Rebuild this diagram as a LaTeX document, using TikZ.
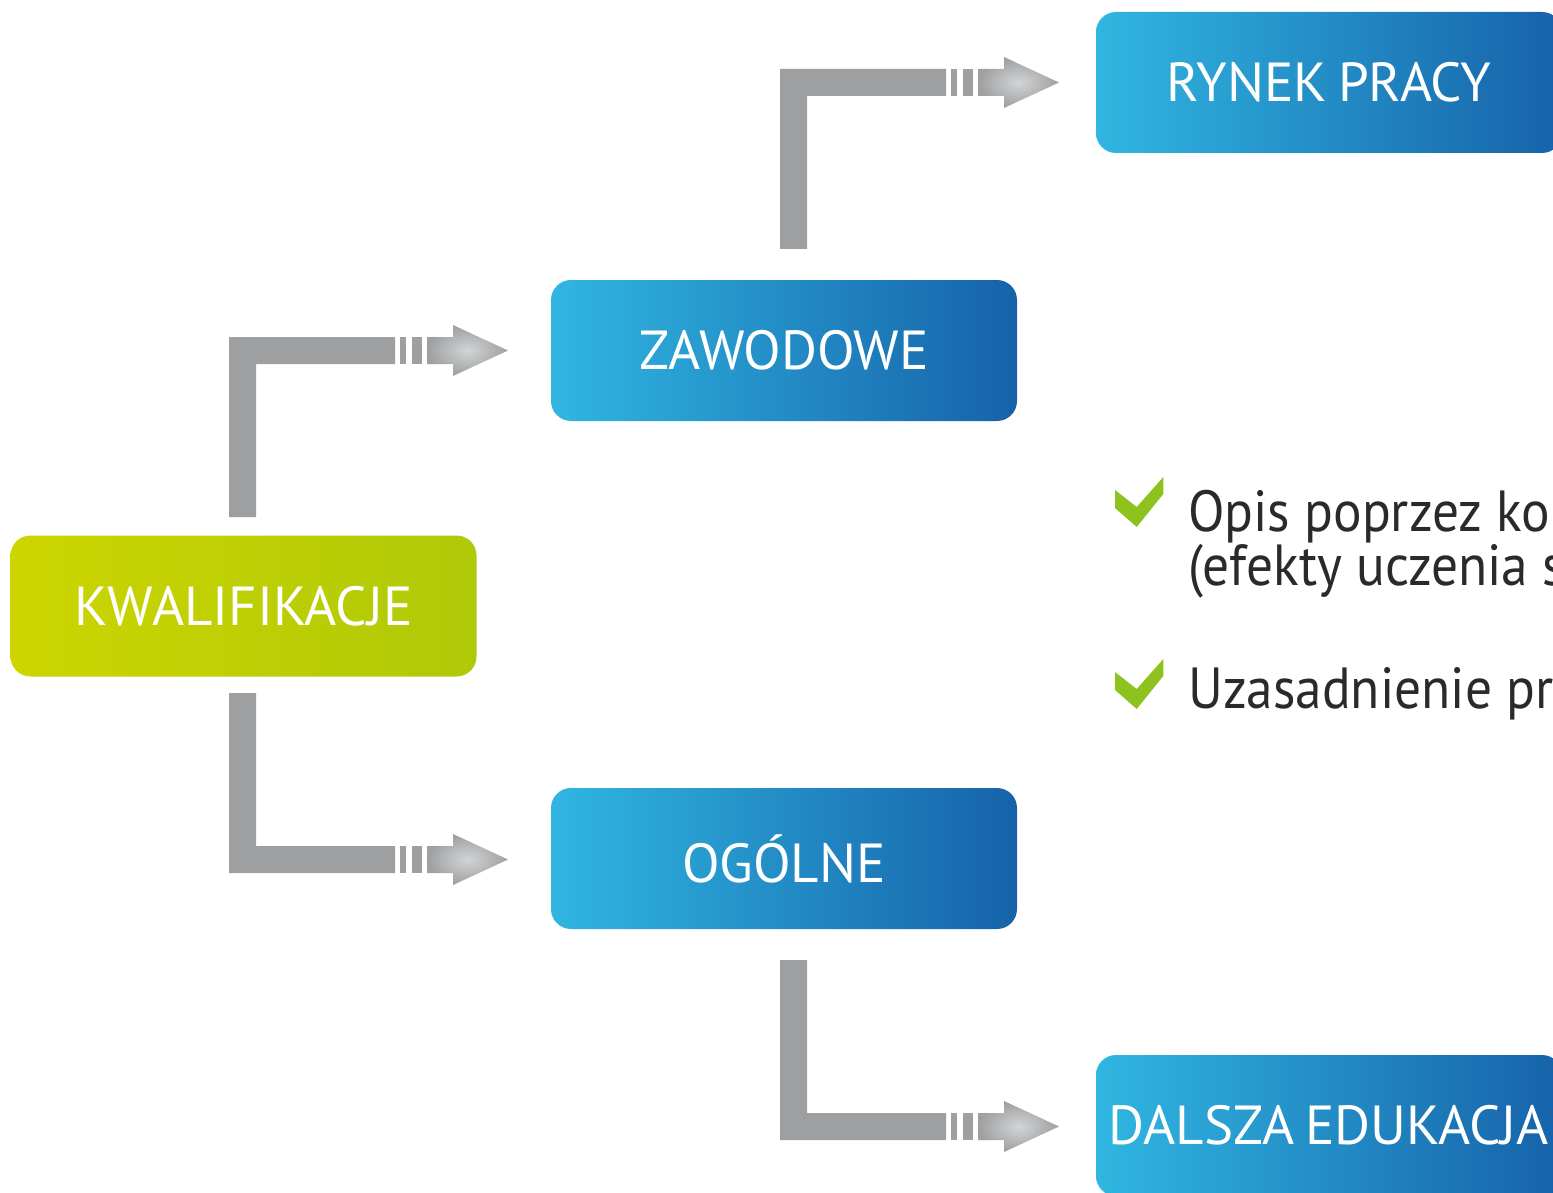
\documentclass[tikz,border=0pt]{standalone}
\usepackage{fontspec}
\setmainfont{PT Sans}
\newfontfamily\bodyfam[FakeStretch=0.92]{PT Sans}
\usetikzlibrary{calc}
\definecolor{blueL}{HTML}{30B6E1}
\definecolor{blueM}{HTML}{2398D0}
\definecolor{blueR}{HTML}{1662A9}
\definecolor{greenL}{HTML}{CDD500}
\definecolor{greenR}{HTML}{AFC908}
\definecolor{arrowgray}{HTML}{9D9FA1}
\definecolor{checkgreen}{HTML}{8DC21F}
\definecolor{textdark}{HTML}{2B2A29}
\newcommand\myboxfont{\fontsize{55}{60}\selectfont\spaceskip=0.2em\relax}
\newcommand\mybodyfont{\bodyfam\fontsize{58}{60}\selectfont}
\tikzset{
  box/.style={rounded corners=20pt, minimum width=466pt, minimum height=141pt,
    inner sep=0pt, text=white, font=\myboxfont},
  bluebox/.style={box, left color=blueL, middle color=blueM, right color=blueR},
  greenbox/.style={box, left color=greenL, right color=greenR},
  bodytext/.style={text=textdark, anchor=base west, inner sep=0pt, font=\mybodyfont},
  elbow/.pic={
    \fill[arrowgray] (0,0) -- (166,0) -- (166,27) -- (27,27) -- (27,180) -- (0,180) -- cycle;
    \fill[arrowgray] (171,0) rectangle (177,27);
    \fill[arrowgray] (183,0) rectangle (193,27);
    \shade[inner color=arrowgray!45, outer color=arrowgray]
      (198,0) -- (224,0) -- (224,-12) -- (279,13.5) -- (224,39) -- (224,27) -- (198,27) -- cycle;
  },
  checkmark/.pic={
    \fill[checkgreen] (0,12) -- (21.7,29) -- (48.3,-1) -- (48.3,16) -- (21.7,49) -- (0,30) -- cycle;
  }
}
\begin{document}
\begin{tikzpicture}[x=1pt,y=-1pt]
\useasboundingbox (0,0) rectangle (1553,1193);
\clip (0,0) rectangle (1553,1193);
\fill[white] (0,0) rectangle (1553,1193);

\node[bluebox] (ryn) at (1329,82.5) {RYNEK PRACY};
\node[bluebox] (zaw) at (784,350.5) {ZAWODOWE};
\node[greenbox] (kwal) at (243.5,606) {KWALIFIKACJE};
\node[bluebox] (og) at (784,858.5) {OGÓLNE};
\node[bluebox] (dal) at (1329,1125.5) {DALSZA EDUKACJA};

% elbow arrows
\pic at ($(kwal.center |- zaw.center)+(-14.5,-13.5)$) {elbow};
\pic[yscale=-1] at ($(kwal.center |- og.center)+(-14.5,14.5)$) {elbow};
\pic at ($(zaw.center |- ryn.center)+(-4,-13.5)$) {elbow};
\pic[yscale=-1] at ($(og.center |- dal.center)+(-4,14.5)$) {elbow};

% bullet list
\pic at (1115,478) {checkmark};
\pic at (1115,660) {checkmark};
\node[bodytext] (t1) at (1188,531) {Opis poprzez kom};
\node[bodytext] (t2) at (1188,585) {(efekty uczenia si};
\node[bodytext] (t3) at (1188,708) {Uzasadnienie prz};
\end{tikzpicture}
\end{document}
